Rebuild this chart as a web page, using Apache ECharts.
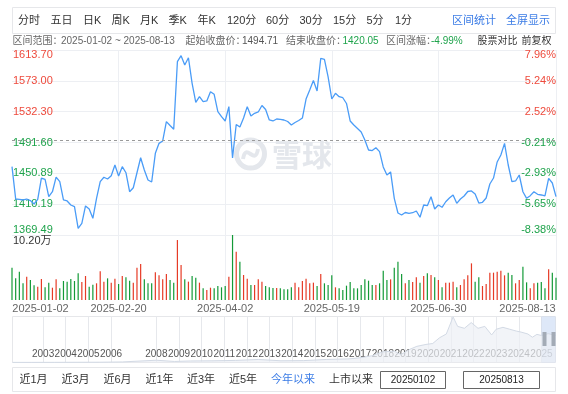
<!DOCTYPE html>
<html><head><meta charset="utf-8">
<script src="https://cdn.jsdelivr.net/npm/echarts@6/dist/echarts.min.js"></script>
<style>html,body{margin:0;padding:0;background:#fff;}#c{width:568px;height:394px;}</style>
</head><body><div id="c"></div>
<script>
// ---------- data ----------
const monthDays = [
  ['2025-01', [2,3,6,7,8,9,10,13,14,15,16,17,20,21,22,23,24,27]],
  ['2025-02', [5,6,7,10,11,12,13,14,17,18,19,20,21,24,25,26,27,28]],
  ['2025-03', [3,4,5,6,7,10,11,12,13,14,17,18,19,20,21,24,25,26,27,28,31]],
  ['2025-04', [1,2,3,7,8,9,10,11,14,15,16,17,18,21,22,23,24,25,28,29,30]],
  ['2025-05', [6,7,8,9,12,13,14,15,16,19,20,21,22,23,26,27,28,29,30]],
  ['2025-06', [3,4,5,6,9,10,11,12,13,16,17,18,19,20,23,24,25,26,27,30]],
  ['2025-07', [1,2,3,4,7,8,9,10,11,14,15,16,17,18,21,22,23,24,25,28,29,30,31]],
  ['2025-08', [1,4,5,6,7,8,11,12,13]]
];
const closes = [
  1459.7,1417.0,1416.5,1415.7,1417.0,1415.0,1410.4,1416.4,1444.7,1442.8,
  1420.0,1426.6,1446.0,1439.9,1415.7,1414.4,1409.1,1406.9,1378.3,1384.9,
  1407.8,1403.8,1391.5,1417.9,1439.9,1445.7,1443.4,1447.8,1461.9,1447.4,
  1459.7,1451.7,1426.6,1431.9,1451.7,1471.5,1455.3,1442.1,1439.5,1477.3,
  1490.5,1493.6,1519.1,1514.0,1509.0,1598.3,1606.2,1593.9,1603.5,1569.7,
  1544.7,1552.1,1545.5,1546.4,1558.7,1555.2,1532.3,1525.7,1520.0,1538.9,
  1471.1,1515.4,1512.1,1523.9,1538.9,1526.6,1530.1,1531.9,1540.4,1535.2,
  1521.3,1520.0,1522.6,1522.0,1521.3,1519.3,1514.7,1518.0,1520.6,1523.9,
  1549.0,1560.9,1573.4,1559.6,1602.7,1601.2,1578.1,1549.0,1556.5,1552.1,
  1550.7,1543.1,1520.0,1514.7,1510.1,1505.5,1494.9,1481.7,1481.0,1484.7,
  1479.5,1459.3,1448.7,1452.7,1417.9,1398.5,1395.9,1399.2,1398.1,1398.9,
  1401.2,1392.9,1409.1,1408.2,1420.0,1403.8,1409.1,1406.1,1413.4,1418.3,
  1422.3,1411.3,1417.0,1421.0,1426.9,1427.6,1423.6,1411.7,1412.7,1418.3,
  1436.8,1444.7,1465.9,1475.1,1490.5,1461.9,1439.9,1440.8,1448.7,1426.6,
  1417.9,1421.4,1426.6,1423.2,1422.3,1421.0,1444.3,1438.1,1420.05
];
const volumes = [ // 万手
  5.07,3.40,4.44,2.62,3.66,3.14,2.30,2.09,3.30,1.99,
  2.72,1.93,3.24,1.83,2.98,2.88,3.30,2.98,4.18,2.82,
  3.77,2.09,2.40,2.62,4.50,2.88,3.40,2.72,3.35,2.51,
  3.77,3.56,3.03,2.72,5.07,5.65,3.24,2.62,2.62,4.34,
  3.87,3.24,4.08,3.14,2.72,9.41,5.49,3.24,2.88,3.77,
  3.50,2.72,1.83,1.57,1.93,1.83,2.20,1.99,2.20,3.66,
  10.20,7.58,6.01,3.92,3.35,2.35,2.35,3.24,2.88,2.20,
  1.99,1.88,1.88,1.83,1.67,1.67,1.99,2.72,1.99,2.98,
  3.35,2.62,2.72,2.20,4.08,2.62,2.35,3.87,1.99,1.83,
  1.57,2.25,2.82,1.83,1.83,2.35,3.24,3.03,2.35,2.35,
  2.62,4.60,3.14,3.24,5.07,6.01,4.08,2.62,3.14,2.82,
  3.56,2.72,3.77,4.18,3.92,3.56,3.14,1.99,2.72,2.72,
  2.88,1.99,2.35,3.24,3.87,5.75,2.88,3.56,2.20,2.51,
  4.29,4.29,4.44,4.60,3.87,4.29,3.92,2.62,3.14,5.23,
  2.77,1.83,2.62,2.72,2.82,1.83,4.81,4.29,3.50
];
const baseClose = 1494.71;       // 起始收盘价
const priceTicks = [1613.70, 1573.00, 1532.30, 1491.60, 1450.89, 1410.19, 1369.49];
const priceTickLabels = ['1613.70','1573.00','1532.30','1491.60','1450.89','1410.19','1369.49'];
const pctTickLabels = ['7.96%','5.24%','2.52%','-0.21%','-2.93%','-5.65%','-8.38%'];
const volumeMax = 10.20;
const volumeTickLabel = '10.20万';
const xLabelIndex = [0, 29, 58, 87, 116, 148];
const xGridIndex = [29, 58, 87, 116, 148];
const overviewYears  = [2001.65,2002.5,2003.5,2004.5,2005.5,2006.5,2007.5,2008.0,2008.8,2009.5,2010.5,2011.5,2012.5,2013.5,2014.5,2015.5,2016.5,2017.0,2017.5,2018.0,2018.5,2018.8,2019.2,2019.5,2019.9,2020.2,2020.5,2020.8,2021.1,2021.3,2021.6,2021.9,2022.2,2022.5,2022.8,2023.0,2023.3,2023.6,2023.9,2024.1,2024.4,2024.6,2024.8,2025.0,2025.3,2025.62];
const overviewValues = [5,6,8,12,15,30,90,120,55,80,90,110,160,90,100,160,190,250,350,560,600,420,700,850,950,1000,1300,1500,2400,1900,1800,2100,1800,1900,1450,1750,1850,1750,1650,1600,1500,1330,1480,1420,1520,1420];
const overviewYearTicks = [2003,2004,2005,2006,2008,2009,2010,2011,2012,2013,2014,2015,2016,2017,2018,2019,2020,2021,2022,2023,2024,2025];
const toolbarItems = ['分时','五日','日K','周K','月K','季K','年K','120分','60分','30分','15分','5分','1分'];
const rangeButtons = ['近1月','近3月','近6月','近1年','近3年','近5年','今年以来','上市以来'];

// ---------- build ----------
const dates = [];
monthDays.forEach(([m, ds]) => ds.forEach(d => dates.push(m + '-' + String(d).padStart(2, '0'))));
const FONT = '"Liberation Sans","Noto Sans CJK SC",sans-serif';
const RED = '#ee4a3c', GREEN = '#1ea34b', GRID = '#edeff3', BLUE = '#3b7ce6';
const barData = volumes.map((v, i) => {
  const prev = i === 0 ? baseClose : closes[i - 1];
  return { value: v, itemStyle: { color: closes[i] >= prev ? '#e63b26' : '#139a37' } };
});
const tickIdx = v => priceTicks.findIndex(t => Math.abs(t - v) < 0.02);
const endClose = closes[closes.length - 1];
const changePct = ((endClose / baseClose - 1) * 100).toFixed(2) + '%';

const graphics = [];
// toolbar
graphics.push({type:'rect', shape:{x:12.5,y:7.5,width:543,height:26}, style:{fill:'#fff', stroke:'#e6e7ea', lineWidth:1}, z:1});
const tbX = [18,50.5,83,111.5,140,168.5,197.5,227,266,299.5,333,366.5,395];
toolbarItems.forEach((t, i) => graphics.push({type:'text', x:tbX[i], y:20.5, style:{text:t, font:'11px '+FONT, fill:'#333', textVerticalAlign:'middle'}, z:2}));
graphics.push({type:'text', x:452, y:20.5, style:{text:'区间统计', font:'11px '+FONT, fill:BLUE, textVerticalAlign:'middle'}, z:2});
graphics.push({type:'text', x:506, y:20.5, style:{text:'全屏显示', font:'11px '+FONT, fill:BLUE, textVerticalAlign:'middle'}, z:2});
// info line
const info = [
  [12.5, '区间范围：', '#666'], [61, dates[0] + ' ~ ' + dates[dates.length-1], '#666'],
  [185.5, '起始收盘价：', '#666'], [242, baseClose.toFixed(2), '#555'],
  [286, '结束收盘价：', '#666'], [342.5, endClose.toFixed(2), GREEN],
  [386, '区间涨幅：', '#666'], [431, changePct, GREEN],
  [477.5, '股票对比', '#333'], [521.5, '前复权', '#333']
];
info.forEach(([x, t, c]) => graphics.push({type:'text', x:x, y:41.5, style:{text:t, font:'10px '+FONT, fill:c, textVerticalAlign:'middle'}, z:2}));
// watermark
graphics.push({type:'circle', shape:{cx:250.5, cy:154, r:14}, style:{fill:'none', stroke:'#e4e7ec', lineWidth:5}, z:1});
graphics.push({type:'bezierCurve', shape:{x1:243, y1:159, cpx1:246, cpy1:141, cpx2:255, cpy2:167, x2:258, y2:149}, style:{fill:'none', stroke:'#e4e7ec', lineWidth:4}, z:1});
graphics.push({type:'text', x:272, y:155, style:{text:'雪球', font:'bold 30px "Noto Sans CJK SC",sans-serif', fill:'#e4e7ec', textVerticalAlign:'middle'}, z:1});
// overview handles
graphics.push({type:'rect', shape:{x:542.5,y:332,width:4,height:14}, style:{fill:'#a3abb6'}, z:5});
graphics.push({type:'rect', shape:{x:551.5,y:332,width:4,height:14}, style:{fill:'#a3abb6'}, z:5});
// bottom bar
graphics.push({type:'rect', shape:{x:12.5,y:367.5,width:543,height:24}, style:{fill:'#fff', stroke:'#e6e7ea', lineWidth:1}, z:1});
const rbX = [19.5,61.5,103.5,145.5,187,229,271,329];
rangeButtons.forEach((t, i) => graphics.push({type:'text', x:rbX[i], y:380, style:{text:t, font:'11px '+FONT, fill: t==='今年以来' ? BLUE : '#333', textVerticalAlign:'middle'}, z:2}));
graphics.push({type:'rect', shape:{x:380.5,y:371.5,width:65,height:17}, style:{fill:'#fff', stroke:'#666', lineWidth:1}, z:2});
graphics.push({type:'rect', shape:{x:463.5,y:371.5,width:76,height:17}, style:{fill:'#fff', stroke:'#666', lineWidth:1}, z:2});
graphics.push({type:'text', x:413, y:380, style:{text:dates[0].replace(/-/g,''), font:'10px '+FONT, fill:'#222', textAlign:'center', textVerticalAlign:'middle'}, z:3});
graphics.push({type:'text', x:501.5, y:380, style:{text:dates[dates.length-1].replace(/-/g,''), font:'10px '+FONT, fill:'#222', textAlign:'center', textVerticalAlign:'middle'}, z:3});

const chart = echarts.init(document.getElementById('c'), null, {renderer:'canvas'});
chart.setOption({
  animation: false,
  textStyle: {fontFamily: FONT},
  grid: [
    {left:12, right:12, top:50, height:185},
    {left:12, right:12, top:235, height:65},
    {left:12.5, right:12.5, top:316.5, height:46, show:true, borderColor:'#e6e7ea', borderWidth:1, backgroundColor:'#fff'}
  ],
  xAxis: [
    {type:'category', gridIndex:0, data:dates, boundaryGap:false,
     axisLine:{show:false}, axisTick:{show:false}, axisLabel:{show:false},
     splitLine:{show:true, interval:(i)=>xGridIndex.includes(i), lineStyle:{color:GRID, width:1}}},
    {type:'category', gridIndex:1, data:dates, boundaryGap:false,
     axisLine:{show:false}, axisTick:{show:false},
     axisLabel:{show:true, interval:(i)=>xLabelIndex.includes(i), color:'#666', fontSize:11, margin:3,
       formatter:(v, i)=> i===0 ? '{l|'+v+'}' : (i===dates.length-1 ? '{r|'+v+'}' : v),
       rich:{l:{padding:[0,0,0,57], color:'#666', fontSize:11}, r:{padding:[0,57,0,0], color:'#666', fontSize:11}}},
     splitLine:{show:true, interval:(i)=>xGridIndex.includes(i), lineStyle:{color:GRID, width:1}}},
    {type:'value', gridIndex:2, min:overviewYears[0], max:2025.62,
     axisLine:{show:false}, splitLine:{show:false},
     axisTick:{show:true, inside:true, length:46, customValues:overviewYearTicks, lineStyle:{color:'#e6e8ec'}},
     axisLabel:{show:true, inside:true, margin:3, customValues:overviewYearTicks, color:'#555', fontSize:10, formatter:(v)=>String(Math.round(v))}}
  ],
  yAxis: [
    {type:'value', gridIndex:0, position:'left', min:priceTicks[6], max:priceTicks[0],
     axisLine:{show:false}, axisTick:{show:false, customValues:priceTicks},
     splitLine:{show:true, lineStyle:{color:GRID, width:1}},
     axisLabel:{inside:true, margin:1, fontSize:11, customValues:priceTicks,
       formatter:(v)=>{const k=tickIdx(v); const up = priceTicks[k] >= baseClose;
         const s = k===0 ? (up?'rt':'gt') : (k===priceTicks.length-1 ? (up?'rb':'gb') : (up?'r':'g'));
         return '{'+s+'|'+priceTickLabels[k]+'}';},
       rich:{r:{color:RED,fontSize:11}, g:{color:GREEN,fontSize:11},
             rt:{color:RED,fontSize:11,padding:[9,0,0,0]}, gt:{color:GREEN,fontSize:11,padding:[9,0,0,0]},
             rb:{color:RED,fontSize:11,padding:[0,0,11,0]}, gb:{color:GREEN,fontSize:11,padding:[0,0,11,0]}}}},
    {type:'value', gridIndex:0, position:'right', min:priceTicks[6], max:priceTicks[0],
     axisLine:{show:false}, axisTick:{show:false, customValues:priceTicks}, splitLine:{show:false},
     axisLabel:{inside:true, margin:0, fontSize:11, customValues:priceTicks,
       formatter:(v)=>{const k=tickIdx(v); const t=pctTickLabels[k]; const up = t[0] !== '-';
         const s = k===0 ? (up?'rt':'gt') : (k===priceTicks.length-1 ? (up?'rb':'gb') : (up?'r':'g'));
         return '{'+s+'|'+t+'}';},
       rich:{r:{color:RED,fontSize:11}, g:{color:GREEN,fontSize:11},
             rt:{color:RED,fontSize:11,padding:[9,0,0,0]}, gt:{color:GREEN,fontSize:11,padding:[9,0,0,0]},
             rb:{color:RED,fontSize:11,padding:[0,0,11,0]}, gb:{color:GREEN,fontSize:11,padding:[0,0,11,0]}}}},
    {type:'value', gridIndex:1, min:0, max:volumeMax,
     axisLine:{show:false}, axisTick:{show:false, customValues:[volumeMax]}, splitLine:{show:false},
     axisLabel:{inside:true, margin:1, customValues:[volumeMax], formatter:()=>'{v|'+volumeTickLabel+'}',
       rich:{v:{color:'#333', fontSize:11, padding:[12,0,0,0]}}}},
    {type:'value', gridIndex:2, min:0, max:2420, show:false}
  ],
  series: [
    {type:'line', xAxisIndex:0, yAxisIndex:0, data:closes, showSymbol:false, symbol:'none',
     lineStyle:{color:'#4a9cf7', width:1.3}, z:3,
     markLine:{silent:true, symbol:'none', label:{show:false},
       lineStyle:{type:[3,3], color:'#9a9a9a', width:1}, data:[{yAxis: baseClose}]}},
    {type:'bar', xAxisIndex:1, yAxisIndex:2, data:barData, barWidth:1.2},
    {type:'line', xAxisIndex:2, yAxisIndex:3, data:overviewYears.map((y,i)=>[y, overviewValues[i]]),
     showSymbol:false, symbol:'none', lineStyle:{color:'#d3dae5', width:1},
     areaStyle:{color:'#edf0f5'},
     markArea:{silent:true, itemStyle:{color:'rgba(176,201,238,0.42)'}, data:[[{xAxis:2025.0},{xAxis:2025.62}]]}}
  ],
  graphic: graphics
});
</script></body></html>
